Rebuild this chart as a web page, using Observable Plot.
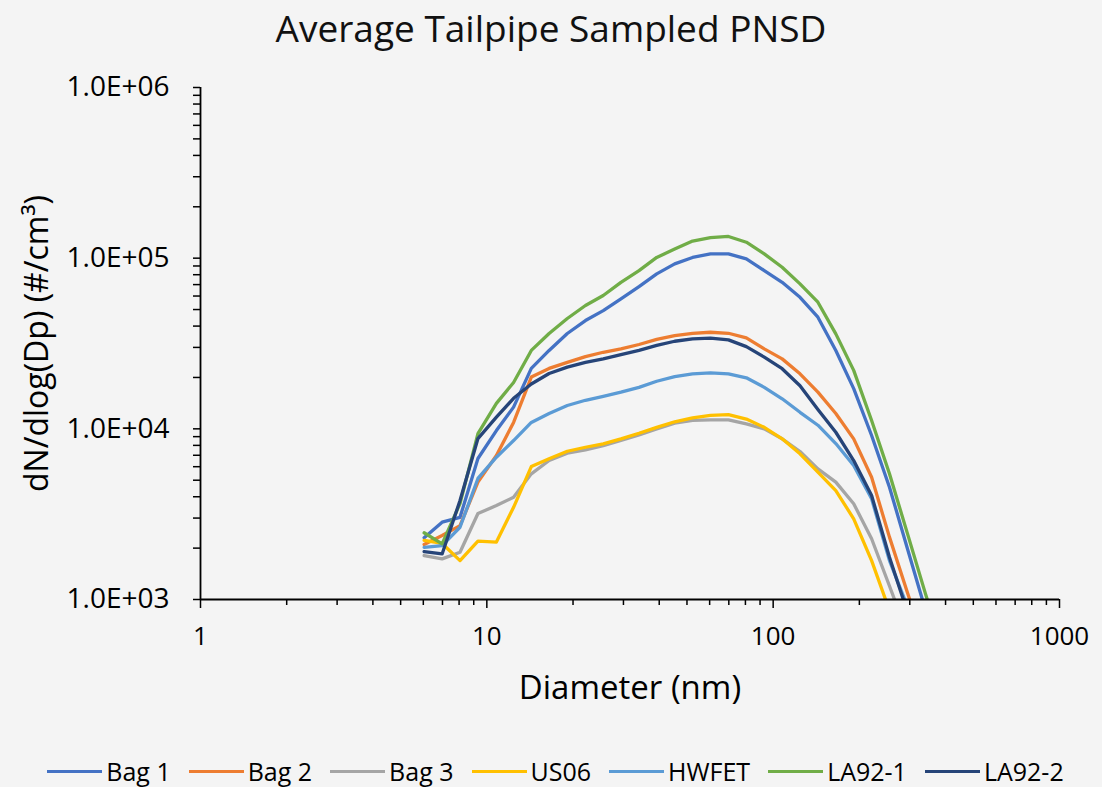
<!DOCTYPE html>
<html><head><meta charset="utf-8">
<script src="https://cdn.jsdelivr.net/npm/d3@7"></script>
<script src="https://cdn.jsdelivr.net/npm/@observablehq/plot@0.6"></script>
<style>
html,body{margin:0;padding:0;background:#f4f4f4;}
body{width:1102px;height:787px;overflow:hidden;font-family:"Open Sans",sans-serif;color:#000;}
#title{height:55px;line-height:55px;text-align:center;font-size:37px;color:#111;}
#chart svg{display:block;}
#legend{height:32px;display:flex;justify-content:center;align-items:center;gap:18px;font-size:25px;padding-left:9px;box-sizing:border-box;width:1102px;}
.item{display:flex;align-items:center;}
.sw{width:55px;height:3px;margin-right:4px;}
</style></head><body>
<div id="title">Average Tailpipe Sampled PNSD</div>
<div id="chart"></div>
<div id="legend"></div>
<script>
const diameters = [6.04, 6.98, 8.06, 9.31, 10.8, 12.4, 14.3, 16.5, 19.1, 22.1, 25.5, 29.4, 34.0, 39.2, 45.3, 52.3, 60.4, 69.8, 80.6, 93.1, 107.5, 124.1, 143.3, 165.5, 191.1, 220.7, 254.8, 294.3, 339.8, 392.4];
const bag1  = [2300, 2840, 3030, 6700, 9770, 13400, 22600, 28800, 36200, 43100, 49300, 57800, 68200, 80900, 92600, 101000, 106000, 106000, 99100, 84600, 72200, 59000, 45100, 28800, 17200, 9140, 4550, 1990, 874, null];
const bag2  = [2100, 2370, 2710, 4870, 6980, 10900, 20100, 22600, 24500, 26500, 28100, 29400, 31200, 33400, 35200, 36300, 36800, 36300, 34100, 29400, 25700, 21000, 16400, 12300, 8730, 5200, 2320, 1100, 530, null];
const bag3  = [1810, 1730, 1890, 3190, 3550, 3970, 5450, 6520, 7200, 7530, 7980, 8540, 9220, 10000, 10800, 11200, 11300, 11300, 10700, 10000, 8740, 7360, 5830, 4870, 3640, 2270, 1200, 630, null, null];
const us06  = [2220, 2130, 1690, 2200, 2170, 3470, 6010, 6670, 7390, 7800, 8170, 8740, 9420, 10200, 11000, 11600, 12000, 12100, 11400, 10200, 8740, 7140, 5570, 4350, 2970, 1690, 862, null, null, null];
const hwfet = [2020, 2070, 2650, 5120, 6820, 8540, 10900, 12300, 13700, 14700, 15500, 16400, 17500, 19000, 20200, 21000, 21300, 21000, 19900, 17500, 15000, 12500, 10500, 8200, 6100, 3890, 1690, 910, null, null];
const la921 = [2460, 2120, 3650, 9380, 14100, 18700, 28800, 36200, 44300, 52800, 60400, 72200, 84600, 101000, 113000, 126000, 132000, 134000, 124000, 106000, 88500, 70700, 55200, 36000, 22000, 11200, 5450, 2440, 1090, 500];
const la922 = [1910, 1850, 3800, 8770, 11700, 15100, 18300, 21100, 23000, 24500, 25700, 27200, 28800, 30800, 32600, 33700, 34000, 33200, 30300, 26300, 22500, 17900, 13000, 9550, 6520, 4070, 1770, 844, null, null];

const seriesNames = ["Bag 1", "Bag 2", "Bag 3", "US06", "HWFET", "LA92-1", "LA92-2"];
const seriesColors = ["#4472C4", "#ED7D31", "#A5A5A5", "#FFC000", "#5B9BD5", "#70AD47", "#264478"];
const seriesValues = [bag1, bag2, bag3, us06, hwfet, la921, la922];

const xMajor = [1, 10, 100, 1000];
const xMinor = [2,3,4,5,6,7,8,9,20,30,40,50,60,70,80,90,200,300,400,500,600,700,800,900];
const yMajor = [1e3, 1e4, 1e5, 1e6];
const yMinor = [2e3,3e3,4e3,5e3,6e3,7e3,8e3,9e3,2e4,3e4,4e4,5e4,6e4,7e4,8e4,9e4,2e5,3e5,4e5,5e5,6e5,7e5,8e5,9e5];

const data = seriesNames.flatMap((name, s) =>
  seriesValues[s].map((v, i) => ({name, d: diameters[i], v})).filter(p => p.v != null));

const fmtY = d => "1.0E+" + String(Math.round(Math.log10(d))).padStart(2, "0");

const chart = Plot.plot({
  width: 1102, height: 700,
  marginTop: 32, marginLeft: 200, marginRight: 43, marginBottom: 156,
  style: {background: "transparent", fontFamily: "'Open Sans', sans-serif", fontSize: "24px", color: "#000"},
  x: {type: "log", domain: [1, 1000], label: null},
  y: {type: "log", domain: [1e3, 1e6], label: null},
  color: {domain: seriesNames, range: seriesColors},
  marks: [
    Plot.line(data, {x: "d", y: "v", z: "name", stroke: "name", strokeWidth: 3.3, clip: true}),
    Plot.axisY(yMajor, {tickSize: 7, tickPadding: 24, tickFormat: fmtY, fontSize: 28, strokeWidth: 1.5, label: null}),
    Plot.axisY(yMinor, {tickSize: 7, tickFormat: () => "", strokeWidth: 1.5, label: null}),
    Plot.axisX(xMajor, {tickSize: 9, tickPadding: 18, tickFormat: d => String(d), fontSize: 26, strokeWidth: 1.5, label: null}),
    Plot.axisX(xMinor, {tickSize: 6, tickFormat: () => "", strokeWidth: 1.5, label: null}),
    Plot.ruleX([1], {stroke: "#000", strokeWidth: 1.8}),
    Plot.ruleY([1e3], {stroke: "#000", strokeWidth: 1.8}),
    Plot.text(["Diameter (nm)"], {frameAnchor: "bottom", dy: 89, text: d => d, fontSize: 33, lineAnchor: "middle", textAnchor: "middle"}),
    Plot.text(["dN/dlog(Dp) (#/cm³)"], {frameAnchor: "left", dx: -163, rotate: -90, text: d => d, fontSize: 32, lineAnchor: "middle", textAnchor: "middle"})
  ]
});
document.getElementById("chart").appendChild(chart);

const legend = document.getElementById("legend");
seriesNames.forEach((name, i) => {
  const item = document.createElement("div");
  item.className = "item";
  const sw = document.createElement("div");
  sw.className = "sw";
  sw.style.background = seriesColors[i];
  const label = document.createElement("span");
  label.textContent = name;
  item.appendChild(sw);
  item.appendChild(label);
  legend.appendChild(item);
});
</script>
</body></html>
